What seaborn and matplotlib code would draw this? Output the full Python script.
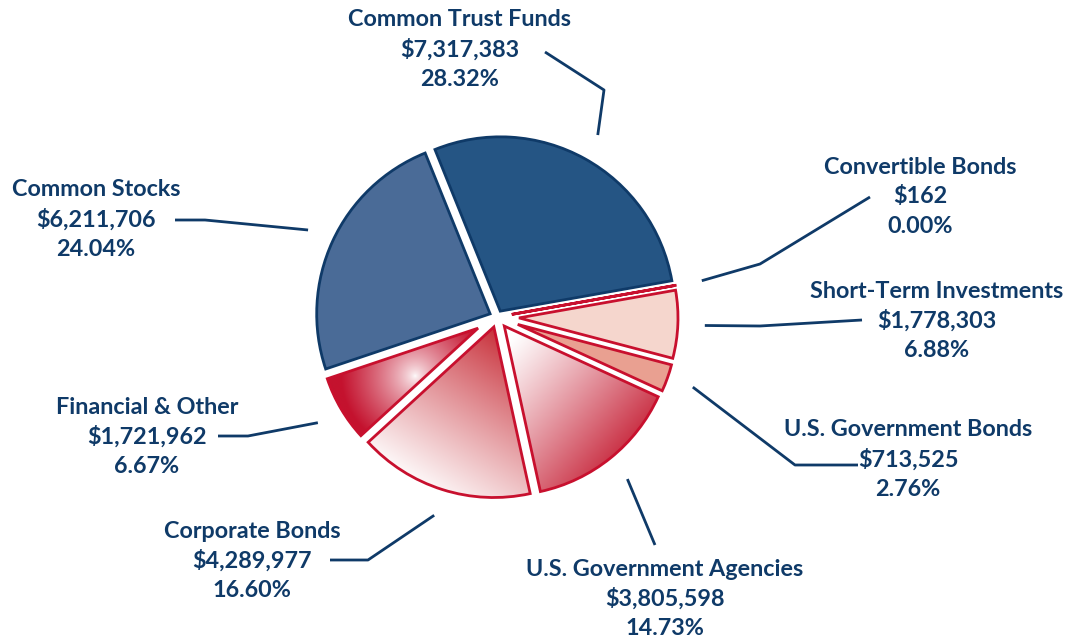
import numpy as np
import matplotlib
matplotlib.use('Agg')
import matplotlib.pyplot as plt
import seaborn as sns
from matplotlib.colors import to_rgb

# portfolio breakdown, clockwise from the top
categories = ['Common Trust Funds', 'Convertible Bonds', 'Short-Term Investments',
              'U.S. Government Bonds', 'U.S. Government Agencies', 'Corporate Bonds',
              'Financial & Other', 'Common Stocks']
amounts = [7317383, 162, 1778303, 713525, 3805598, 4289977, 1721962, 6211706]
percents = [28.32, 0.00, 6.88, 2.76, 14.73, 16.60, 6.67, 24.04]

W, H = 1068, 637
NAVY = '#0f3a68'
RED = '#c8102e'

sns.set_theme(style='white')
plt.rcParams['font.family'] = ['Lato', 'DejaVu Sans']

fig = plt.figure(figsize=(W / 100, H / 100), dpi=100)
ax = fig.add_axes([0, 0, 1, 1])

cx, cy, R = 497, H - 317, 181
face = ['#255584', '#ffffff', '#f5d6cd', '#e9a091', '#ffffff', '#ffffff', '#ffffff', '#4a6b97']
edge = [NAVY, RED, RED, RED, RED, RED, RED, NAVY]

wedges, _ = ax.pie(amounts, startangle=112, counterclock=False, center=(cx, cy), radius=R,
                   colors=face, wedgeprops=dict(linewidth=2))

# pull each slice apart so the white gaps are about the same width
mids = []
for w, ec in zip(wedges, edge):
    w.set_edgecolor(ec)
    half = np.radians(w.theta2 - w.theta1) / 2
    mid = np.radians(w.theta1 + w.theta2) / 2
    mids.append(mid)
    s = 15 if half < 0.01 else min(5.2 / np.sin(half), 22)
    w.set_center((cx + s * np.cos(mid), cy + s * np.sin(mid)))
    w.set_radius(R - s)


def shade(w, p0, p1, c0, c1, radial=False, gamma=1.0):
    x0, x1, y0, y1 = cx - R - 20, cx + R + 20, cy - R - 20, cy + R + 20
    X, Y = np.meshgrid(np.linspace(x0, x1, 500), np.linspace(y0, y1, 500))
    ax0, ay0 = p0[0], H - p0[1]
    ax1, ay1 = p1[0], H - p1[1]
    if radial:
        t = np.hypot(X - ax0, Y - ay0) / np.hypot(ax1 - ax0, ay1 - ay0)
    else:
        dx, dy = ax1 - ax0, ay1 - ay0
        t = ((X - ax0) * dx + (Y - ay0) * dy) / (dx * dx + dy * dy)
    t = np.clip(t, 0, 1) ** gamma
    img = np.array(to_rgb(c0))[None, None, :] * (1 - t[..., None]) + \
        np.array(to_rgb(c1))[None, None, :] * t[..., None]
    w.set_facecolor('none')
    im = ax.imshow(img, extent=(x0, x1, y0, y1), origin='lower', zorder=0.5,
                   interpolation='bilinear')
    im.set_clip_path(w)


shade(wedges[4], (515, 335), (645, 450), '#ffffff', '#c41a30', gamma=1.1)
shade(wedges[5], (495, 330), (400, 478), '#c8303a', '#ffffff', gamma=0.9)
shade(wedges[6], (415, 376), (415, 450), '#ffffff', '#c4122e', radial=True, gamma=0.7)

# leader lines and labels (image pixel coords)
bends = [[(604, 90), (545, 52)],
         [(760, 264), (870, 197)],
         [(760, 326), (862, 320)],
         [(795, 465), (858, 465)],
         [(655, 545)],
         [(368, 560), (330, 560)],
         [(248, 436), (218, 436)],
         [(205, 220), (175, 220)]]
label_pos = [(460, 20), (920, 167), (937, 291), (908, 430),
             (665, 569), (252, 531), (147, 407), (96, 190)]

for i, mid in enumerate(mids):
    xs = [cx + 208 * np.cos(mid)] + [p[0] for p in bends[i]]
    ys = [cy + 208 * np.sin(mid)] + [H - p[1] for p in bends[i]]
    ax.plot(xs, ys, color=NAVY, lw=2, solid_capstyle='butt', zorder=3)
    lx, ly = label_pos[i]
    lines = [categories[i], '${:,}'.format(amounts[i]), '{:.2f}%'.format(percents[i])]
    for k, txt in enumerate(lines):
        ax.text(lx, H - ly - 29.7 * k, txt, ha='center', va='center', fontsize=16.8,
                fontweight='bold', color=NAVY, zorder=4)

ax.set_xlim(0, W)
ax.set_ylim(0, H)
ax.set_aspect('equal')
ax.axis('off')
fig.savefig('out.png', dpi=100)
